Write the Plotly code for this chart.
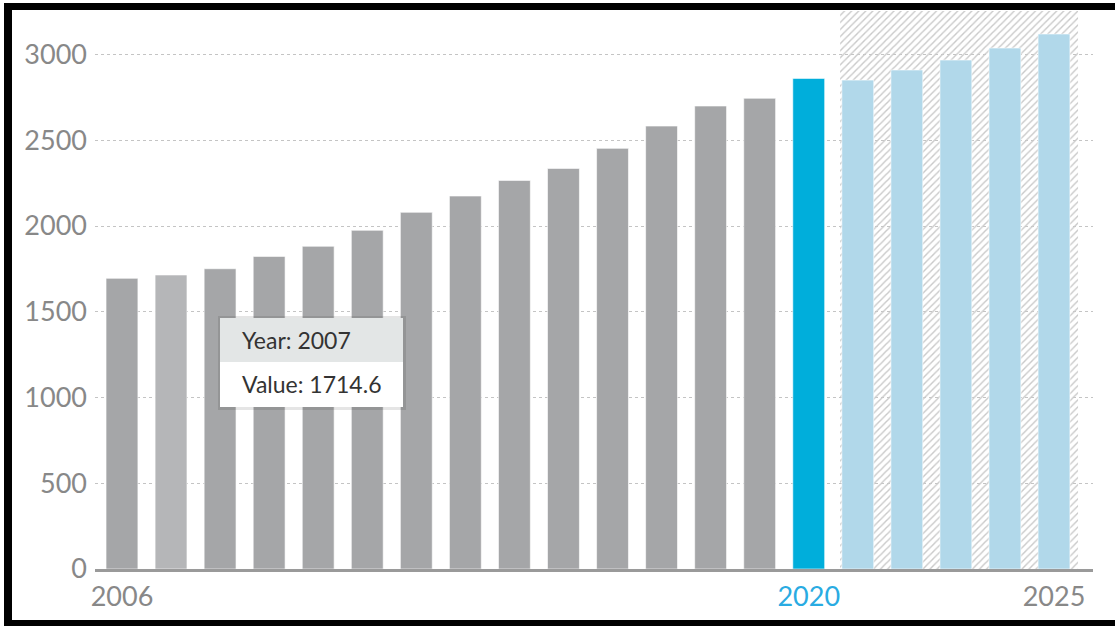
import plotly.graph_objects as go

# ---------------- data ----------------
years = list(range(2006, 2026))
values = [1695, 1714.6, 1751, 1823, 1882, 1975, 2080, 2175, 2266, 2336,
          2453, 2583, 2700, 2745, 2861, 2851, 2910, 2968, 3038, 3120]
bar_colors = (["#a5a6a8", "#b5b6b8"] + ["#a5a6a8"] * 12 + ["#00aedb"] + ["#b1d8ea"] * 5)
x_tickvals = [2006, 2020, 2025]
x_ticktext = ["2006", "<span style='color:#29abe2'>2020</span>", "2025"]
y_tickvals = [0, 500, 1000, 1500, 2000, 2500, 3000]
forecast_start = 2020.64
forecast_end = 2025.49
tooltip_year = "Year: 2007"
tooltip_value = "Value: 1714.6"

# ---------------- layout geometry ----------------
W, H = 1115, 626
L, R, T, B = 95, 22, 11, 57
Y_MAX = 3254
X_RANGE = [2005.45, 2025.795]


def pxx(px):
    return (px - L) / (W - L - R)


def pxy(py):
    return (H - B - py) / (H - T - B)


fig = go.Figure()

# hatched forecast region
fig.add_trace(go.Bar(
    x=[(forecast_start + forecast_end) / 2], y=[Y_MAX], width=[forecast_end - forecast_start],
    marker=dict(color="#c9c9c9", line=dict(width=0),
                pattern=dict(shape="/", size=5, solidity=0.28, fillmode="replace")),
    hoverinfo="skip", showlegend=False,
))

fig.add_trace(go.Bar(
    x=years, y=values, width=0.65,
    marker=dict(color=bar_colors, line=dict(width=1, color="rgba(255,255,255,0.6)")),
    showlegend=False,
))

shapes = []
# tooltip shadow + box
shapes.append(dict(type="rect", xref="paper", yref="paper",
                   x0=pxx(218), x1=pxx(406), y0=pxy(410), y1=pxy(316),
                   fillcolor="rgba(0,0,0,0.10)", line=dict(width=0), layer="above"))
shapes.append(dict(type="rect", xref="paper", yref="paper",
                   x0=pxx(220), x1=pxx(403), y0=pxy(407), y1=pxy(318),
                   fillcolor="#ffffff", line=dict(width=0), layer="above"))
shapes.append(dict(type="rect", xref="paper", yref="paper",
                   x0=pxx(220), x1=pxx(403), y0=pxy(362), y1=pxy(318),
                   fillcolor="#e3e6e6", line=dict(width=0), layer="above"))
# black frame (top, left, bottom)
shapes.append(dict(type="rect", xref="paper", yref="paper",
                   x0=pxx(4), x1=pxx(1120), y0=pxy(10), y1=pxy(3),
                   fillcolor="#000000", line=dict(width=0), layer="above"))
shapes.append(dict(type="rect", xref="paper", yref="paper",
                   x0=pxx(4), x1=pxx(12), y0=pxy(630), y1=pxy(3),
                   fillcolor="#000000", line=dict(width=0), layer="above"))
shapes.append(dict(type="rect", xref="paper", yref="paper",
                   x0=pxx(4), x1=pxx(1120), y0=pxy(630), y1=pxy(620),
                   fillcolor="#000000", line=dict(width=0), layer="above"))

annotations = [
    dict(xref="paper", yref="paper", x=pxx(240), y=pxy(340), text=tooltip_year,
         showarrow=False, xanchor="left", yanchor="middle",
         font=dict(family="Lato", size=23, color="#333333")),
    dict(xref="paper", yref="paper", x=pxx(240), y=pxy(384), text=tooltip_value,
         showarrow=False, xanchor="left", yanchor="middle",
         font=dict(family="Lato", size=23, color="#333333")),
]

fig.update_layout(
    width=W, height=H,
    margin=dict(l=L, r=R, t=T, b=B, pad=0),
    paper_bgcolor="white", plot_bgcolor="white",
    barmode="overlay",
    shapes=shapes, annotations=annotations,
    font=dict(family="Lato", color="#888888"),
    xaxis=dict(range=X_RANGE, tickvals=x_tickvals, ticktext=x_ticktext,
               showgrid=False, zeroline=False, showline=True, linecolor="#9a9a9a",
               linewidth=3, ticks="", tickfont=dict(size=27, color="#888888"),
               ticklabelstandoff=2),
    yaxis=dict(range=[0, Y_MAX], tickvals=y_tickvals, showgrid=True,
               gridcolor="#c4c4c4", griddash="3px,3px", gridwidth=1,
               zeroline=False, showline=False, ticks="",
               tickfont=dict(size=27, color="#888888"), ticklabelstandoff=7),
)

fig.write_html("out.html", config={"displayModeBar": False},
               post_script="document.body.style.margin='0';document.body.style.overflow='hidden';")
